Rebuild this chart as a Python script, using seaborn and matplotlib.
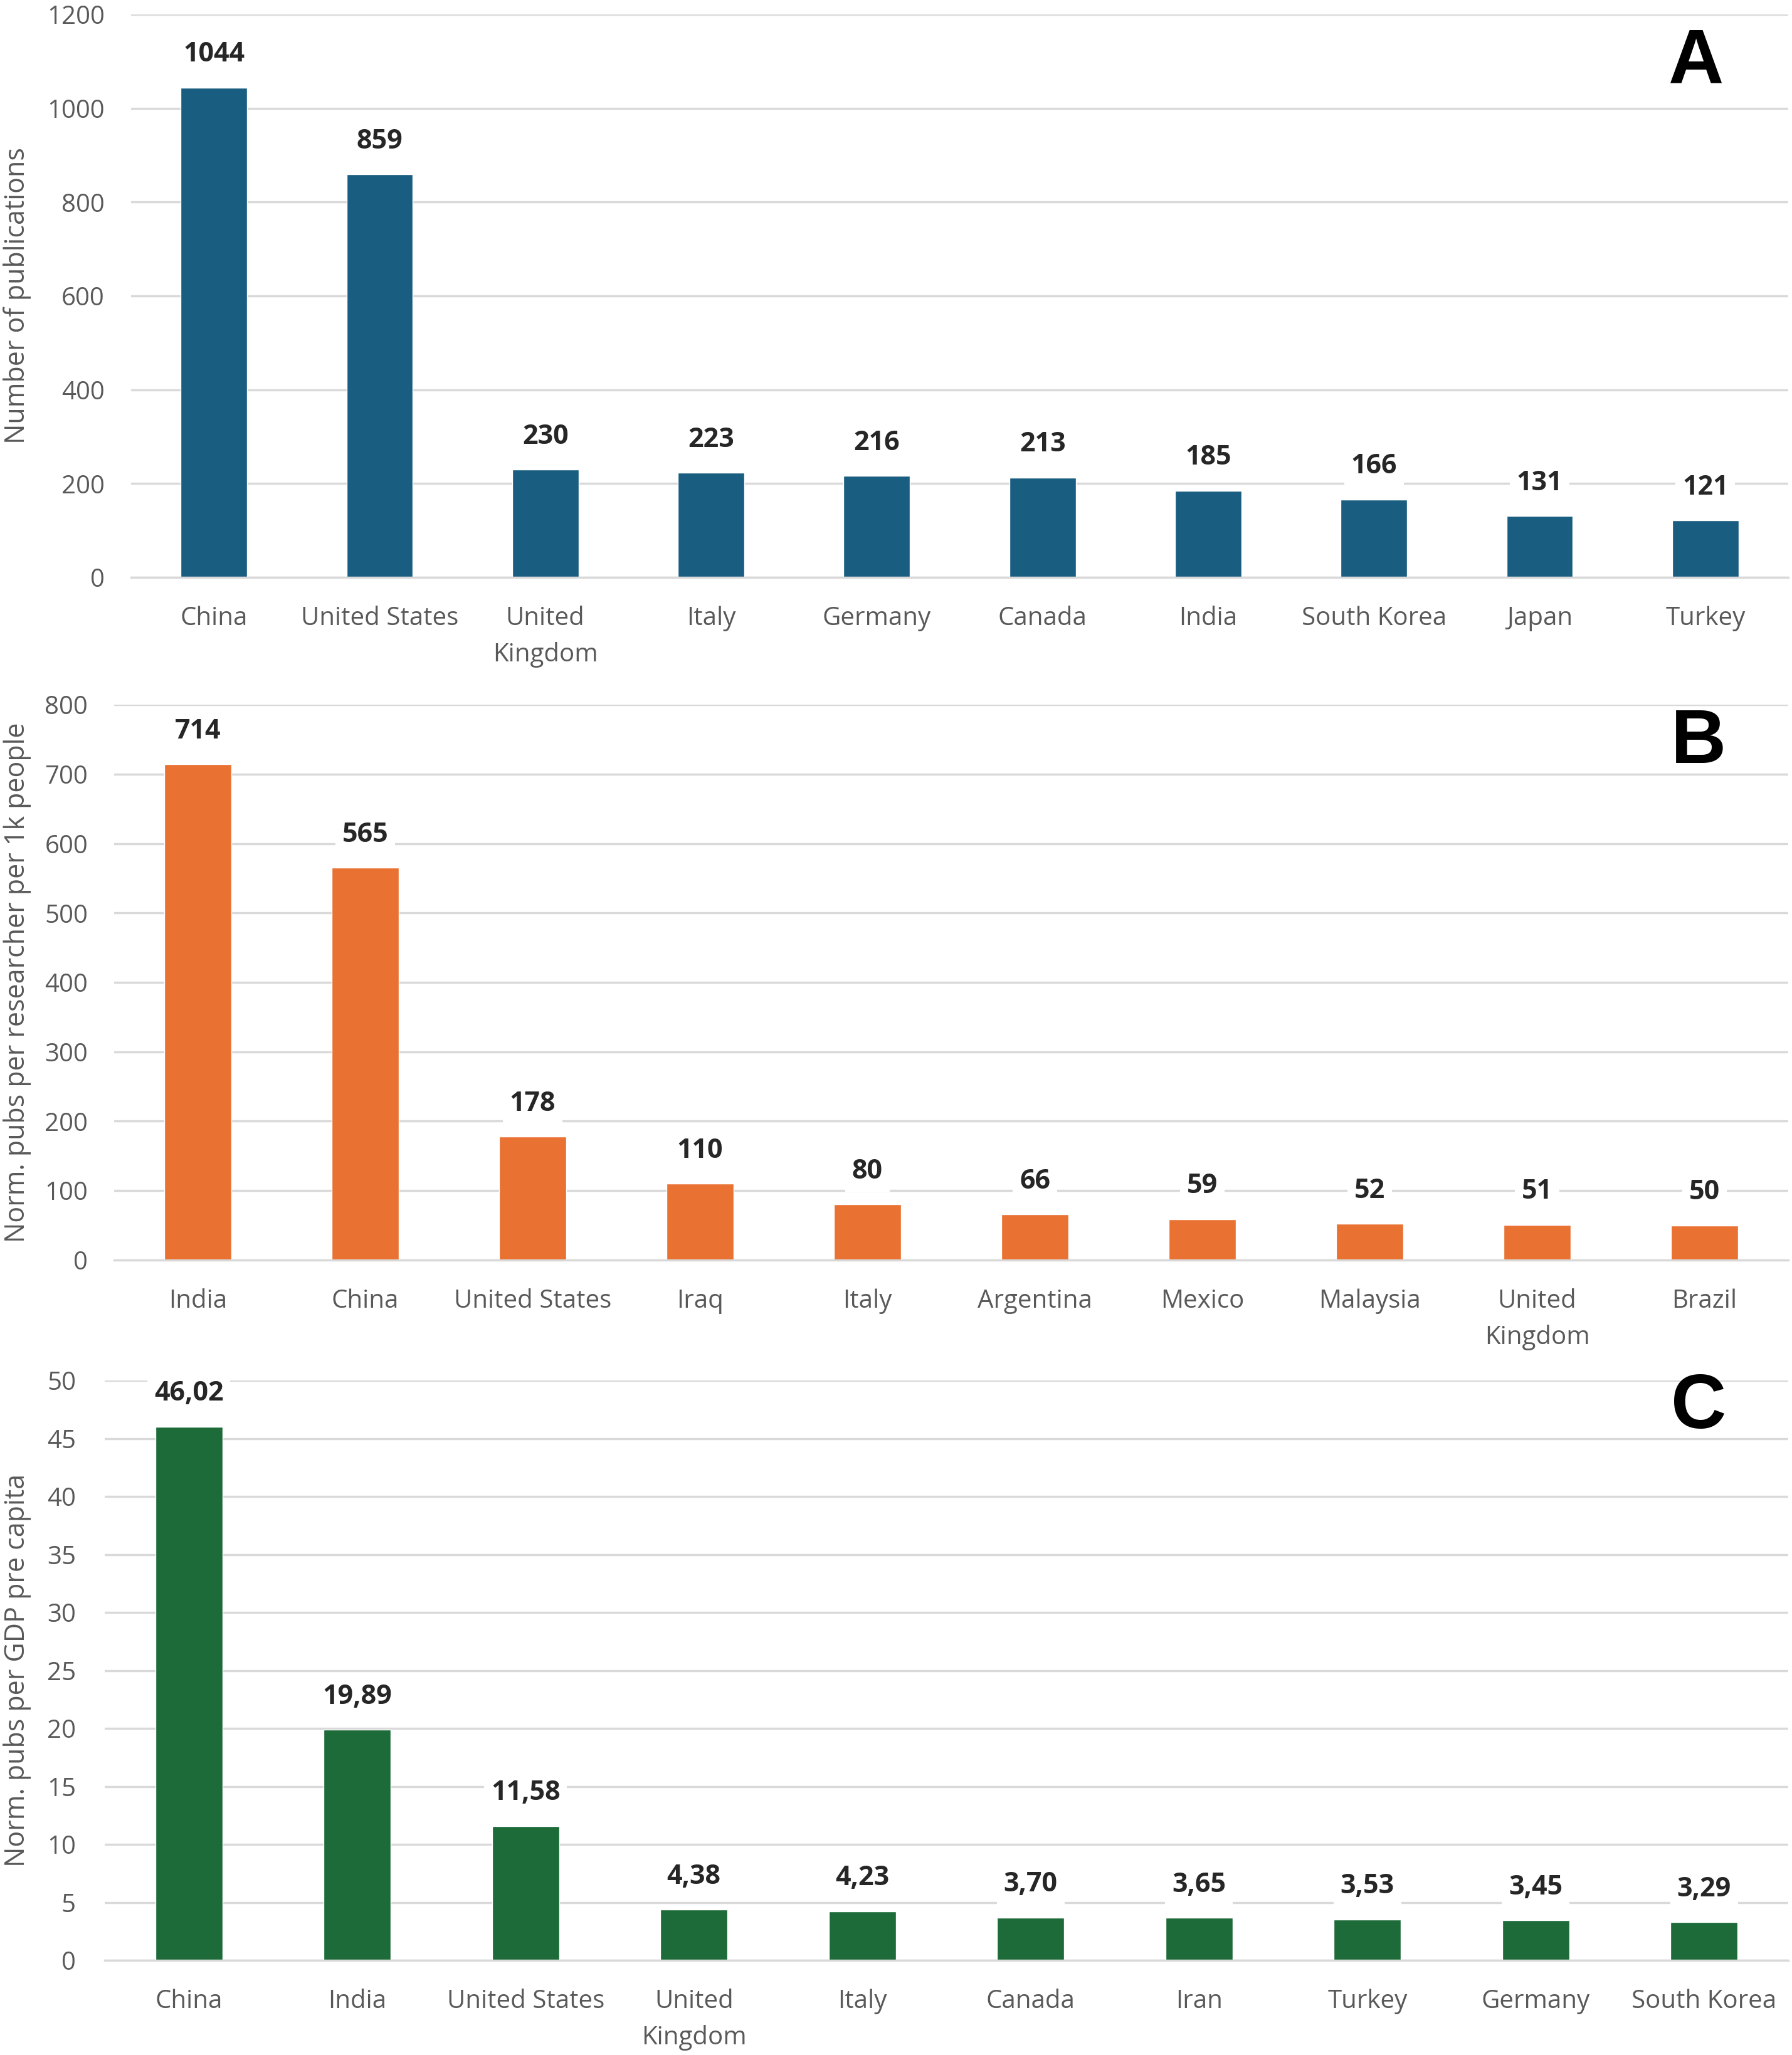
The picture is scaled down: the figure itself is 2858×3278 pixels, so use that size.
import matplotlib
matplotlib.use("Agg")
import matplotlib.pyplot as plt
import seaborn as sns
import pandas as pd

# panel A: raw publication counts
countries_a = ["China", "United States", "United\nKingdom", "Italy", "Germany",
               "Canada", "India", "South Korea", "Japan", "Turkey"]
pubs_a = [1044, 859, 230, 223, 216, 213, 185, 166, 131, 121]

# panel B: normalised per researcher per 1k people
countries_b = ["India", "China", "United States", "Iraq", "Italy", "Argentina",
               "Mexico", "Malaysia", "United\nKingdom", "Brazil"]
pubs_b = [714, 565, 178, 110, 80, 66, 59, 52, 51, 50]

# panel C: normalised per GDP per capita
countries_c = ["China", "India", "United States", "United\nKingdom", "Italy",
               "Canada", "Iran", "Turkey", "Germany", "South Korea"]
pubs_c = [46.02, 19.89, 11.58, 4.38, 4.23, 3.70, 3.65, 3.53, 3.45, 3.29]

sns.set_theme(style="white")
plt.rcParams['font.family'] = ['Open Sans', 'DejaVu Sans']

W, H = 2858, 3278
fig = plt.figure(figsize=(W / 100, H / 100), dpi=100)

panels = [
    dict(cats=countries_a, vals=pubs_a, color="#195E80", letter="A",
         ylabel="Number of publications", ymax=1200, step=200, dec=False,
         box=(209, 2852, 23, 921), tick_right=167, letter_xy=(2705, 100)),
    dict(cats=countries_b, vals=pubs_b, color="#E97132", letter="B",
         ylabel="Norm. pubs per researcher per 1k people", ymax=800, step=100, dec=False,
         box=(182, 2852, 1124, 2010), tick_right=140, letter_xy=(2709, 1185)),
    dict(cats=countries_c, vals=pubs_c, color="#1C6B38", letter="C",
         ylabel="Norm. pubs per GDP pre capita", ymax=50, step=5, dec=True,
         box=(167, 2852, 2202, 3127), tick_right=121, letter_xy=(2709, 2246)),
]

for p in panels:
    l, r, t, b = p["box"]
    ax = fig.add_axes([l / W, 1 - b / H, (r - l) / W, (b - t) / H])
    df = pd.DataFrame({"country": p["cats"], "value": p["vals"]})
    sns.barplot(data=df, x="country", y="value", color=p["color"], saturation=1,
                width=0.4, ax=ax)
    ax.set_xlim(-0.5, len(p["cats"]) - 0.5)
    ax.set_ylim(0, p["ymax"])
    ax.set_yticks(range(0, p["ymax"] + 1, p["step"]))
    ax.yaxis.grid(True, color="#D9D9D9", linewidth=2.5)
    ax.set_axisbelow(True)
    for s in ["top", "right", "left"]:
        ax.spines[s].set_visible(False)
    ax.spines["bottom"].set_color("#D9D9D9")
    ax.spines["bottom"].set_linewidth(2.5)
    ax.tick_params(axis="both", length=0, labelsize=29, labelcolor="#595959")
    ax.tick_params(axis="x", pad=33)
    ax.tick_params(axis="y", pad=(l - p["tick_right"]) * 0.72)
    for lab in ax.get_xticklabels():
        lab.set_linespacing(1.55)
    ax.set_xlabel("")
    ax.set_ylabel(p["ylabel"], fontsize=31, color="#595959")
    ax.yaxis.set_label_coords(50 / W, 1 - (t + b) / 2 / H, transform=fig.transFigure)

    for i, v in enumerate(p["vals"]):
        txt = f"{v:.2f}".replace(".", ",") if p["dec"] else f"{v}"
        ax.annotate(txt, (i, v), xytext=(0, 38), textcoords="offset points",
                    ha="center", va="center", fontsize=31, fontweight="bold",
                    color="#262626",
                    bbox=dict(boxstyle="square,pad=0.25", fc="white", ec="none"))

    fig.text(p["letter_xy"][0] / W, 1 - p["letter_xy"][1] / H, p["letter"],
             ha="center", va="center", fontsize=88, fontweight="bold",
             color="black", family=["Liberation Sans", "DejaVu Sans"])

fig.savefig("out.png", dpi=100, facecolor="white")
